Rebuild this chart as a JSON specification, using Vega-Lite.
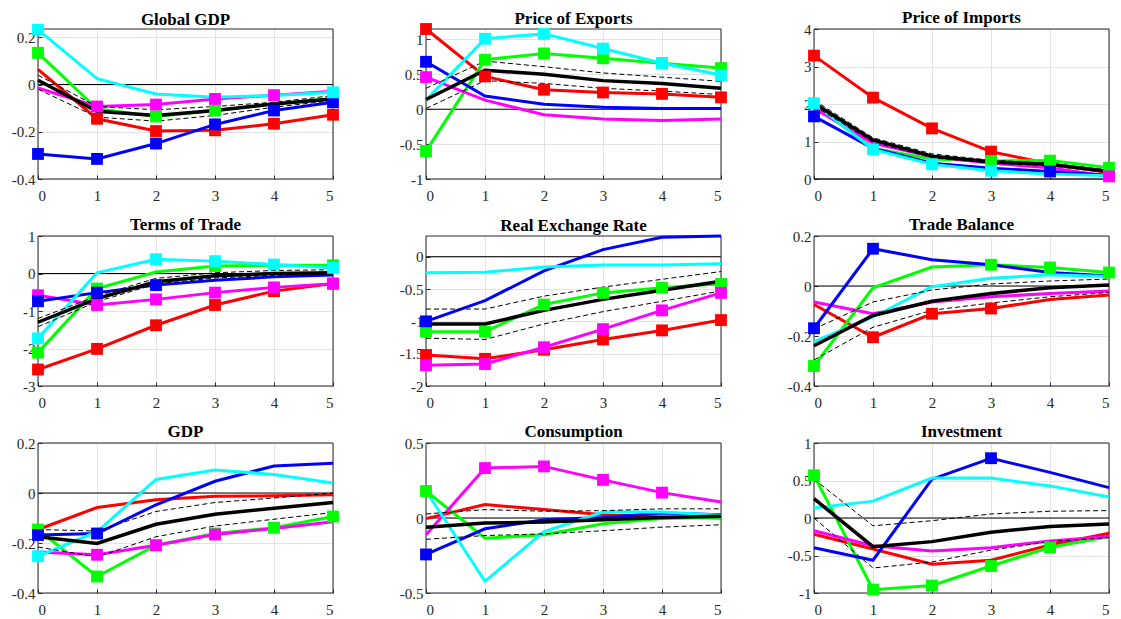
{
"$schema": "https://vega.github.io/schema/vega-lite/v6.json",
"background": "white",
"padding": {"left": 11, "top": 9, "right": 5, "bottom": 5},
"data": {"values": [
{"p":1,"s":"r","t":0,"v":0.064,"m":0},{"p":1,"s":"r","t":1,"v":-0.145,"m":1},{"p":1,"s":"r","t":2,"v":-0.197,"m":1},{"p":1,"s":"r","t":3,"v":-0.194,"m":1},{"p":1,"s":"r","t":4,"v":-0.166,"m":1},{"p":1,"s":"r","t":5,"v":-0.128,"m":1},
{"p":1,"s":"g","t":0,"v":0.134,"m":1},{"p":1,"s":"g","t":1,"v":-0.103,"m":0},{"p":1,"s":"g","t":2,"v":-0.135,"m":1},{"p":1,"s":"g","t":3,"v":-0.11,"m":1},{"p":1,"s":"g","t":4,"v":-0.082,"m":0},{"p":1,"s":"g","t":5,"v":-0.058,"m":0},
{"p":1,"s":"m","t":0,"v":-0.015,"m":0},{"p":1,"s":"m","t":1,"v":-0.093,"m":1},{"p":1,"s":"m","t":2,"v":-0.085,"m":1},{"p":1,"s":"m","t":3,"v":-0.061,"m":1},{"p":1,"s":"m","t":4,"v":-0.045,"m":1},{"p":1,"s":"m","t":5,"v":-0.029,"m":0},
{"p":1,"s":"b","t":0,"v":-0.294,"m":1},{"p":1,"s":"b","t":1,"v":-0.315,"m":1},{"p":1,"s":"b","t":2,"v":-0.25,"m":1},{"p":1,"s":"b","t":3,"v":-0.169,"m":1},{"p":1,"s":"b","t":4,"v":-0.11,"m":1},{"p":1,"s":"b","t":5,"v":-0.075,"m":1},
{"p":1,"s":"c","t":0,"v":0.232,"m":1},{"p":1,"s":"c","t":1,"v":0.025,"m":0},{"p":1,"s":"c","t":2,"v":-0.04,"m":0},{"p":1,"s":"c","t":3,"v":-0.054,"m":0},{"p":1,"s":"c","t":4,"v":-0.047,"m":0},{"p":1,"s":"c","t":5,"v":-0.033,"m":1},
{"p":1,"s":"k","t":0,"v":0.018},{"p":1,"s":"k","t":1,"v":-0.113},{"p":1,"s":"k","t":2,"v":-0.131},{"p":1,"s":"k","t":3,"v":-0.11},{"p":1,"s":"k","t":4,"v":-0.082},{"p":1,"s":"k","t":5,"v":-0.061},
{"p":1,"s":"hi","t":0,"v":0.04},{"p":1,"s":"hi","t":1,"v":-0.093},{"p":1,"s":"hi","t":2,"v":-0.107},{"p":1,"s":"hi","t":3,"v":-0.093},{"p":1,"s":"hi","t":4,"v":-0.075},{"p":1,"s":"hi","t":5,"v":-0.047},
{"p":1,"s":"lo","t":0,"v":-0.02},{"p":1,"s":"lo","t":1,"v":-0.138},{"p":1,"s":"lo","t":2,"v":-0.155},{"p":1,"s":"lo","t":3,"v":-0.131},{"p":1,"s":"lo","t":4,"v":-0.096},{"p":1,"s":"lo","t":5,"v":-0.068},

{"p":2,"s":"r","t":0,"v":1.15,"m":1},{"p":2,"s":"r","t":1,"v":0.47,"m":1},{"p":2,"s":"r","t":2,"v":0.28,"m":1},{"p":2,"s":"r","t":3,"v":0.24,"m":1},{"p":2,"s":"r","t":4,"v":0.22,"m":1},{"p":2,"s":"r","t":5,"v":0.17,"m":1},
{"p":2,"s":"g","t":0,"v":-0.6,"m":1},{"p":2,"s":"g","t":1,"v":0.71,"m":1},{"p":2,"s":"g","t":2,"v":0.8,"m":1},{"p":2,"s":"g","t":3,"v":0.73,"m":1},{"p":2,"s":"g","t":4,"v":0.66,"m":1},{"p":2,"s":"g","t":5,"v":0.59,"m":1},
{"p":2,"s":"m","t":0,"v":0.46,"m":1},{"p":2,"s":"m","t":1,"v":0.13,"m":0},{"p":2,"s":"m","t":2,"v":-0.08,"m":0},{"p":2,"s":"m","t":3,"v":-0.14,"m":0},{"p":2,"s":"m","t":4,"v":-0.16,"m":0},{"p":2,"s":"m","t":5,"v":-0.14,"m":0},
{"p":2,"s":"b","t":0,"v":0.68,"m":1},{"p":2,"s":"b","t":1,"v":0.19,"m":0},{"p":2,"s":"b","t":2,"v":0.07,"m":0},{"p":2,"s":"b","t":3,"v":0.03,"m":0},{"p":2,"s":"b","t":4,"v":0.01,"m":0},{"p":2,"s":"b","t":5,"v":0.01,"m":0},
{"p":2,"s":"c","t":0,"v":0.13,"m":0},{"p":2,"s":"c","t":1,"v":1.01,"m":1},{"p":2,"s":"c","t":2,"v":1.08,"m":1},{"p":2,"s":"c","t":3,"v":0.87,"m":1},{"p":2,"s":"c","t":4,"v":0.66,"m":1},{"p":2,"s":"c","t":5,"v":0.49,"m":1},
{"p":2,"s":"k","t":0,"v":0.14},{"p":2,"s":"k","t":1,"v":0.56},{"p":2,"s":"k","t":2,"v":0.5},{"p":2,"s":"k","t":3,"v":0.41},{"p":2,"s":"k","t":4,"v":0.37},{"p":2,"s":"k","t":5,"v":0.3},
{"p":2,"s":"hi","t":0,"v":0.3},{"p":2,"s":"hi","t":1,"v":0.69},{"p":2,"s":"hi","t":2,"v":0.61},{"p":2,"s":"hi","t":3,"v":0.52},{"p":2,"s":"hi","t":4,"v":0.46},{"p":2,"s":"hi","t":5,"v":0.4},
{"p":2,"s":"lo","t":0,"v":0.01},{"p":2,"s":"lo","t":1,"v":0.41},{"p":2,"s":"lo","t":2,"v":0.37},{"p":2,"s":"lo","t":3,"v":0.3},{"p":2,"s":"lo","t":4,"v":0.26},{"p":2,"s":"lo","t":5,"v":0.21},

{"p":3,"s":"r","t":0,"v":3.29,"m":1},{"p":3,"s":"r","t":1,"v":2.17,"m":1},{"p":3,"s":"r","t":2,"v":1.35,"m":1},{"p":3,"s":"r","t":3,"v":0.73,"m":1},{"p":3,"s":"r","t":4,"v":0.4,"m":0},{"p":3,"s":"r","t":5,"v":0.17,"m":0},
{"p":3,"s":"g","t":0,"v":1.98,"m":0},{"p":3,"s":"g","t":1,"v":0.82,"m":0},{"p":3,"s":"g","t":2,"v":0.53,"m":0},{"p":3,"s":"g","t":3,"v":0.48,"m":1},{"p":3,"s":"g","t":4,"v":0.49,"m":1},{"p":3,"s":"g","t":5,"v":0.3,"m":1},
{"p":3,"s":"m","t":0,"v":1.89,"m":0},{"p":3,"s":"m","t":1,"v":0.95,"m":0},{"p":3,"s":"m","t":2,"v":0.6,"m":0},{"p":3,"s":"m","t":3,"v":0.42,"m":0},{"p":3,"s":"m","t":4,"v":0.3,"m":0},{"p":3,"s":"m","t":5,"v":0.07,"m":1},
{"p":3,"s":"b","t":0,"v":1.67,"m":1},{"p":3,"s":"b","t":1,"v":0.82,"m":0},{"p":3,"s":"b","t":2,"v":0.42,"m":0},{"p":3,"s":"b","t":3,"v":0.29,"m":0},{"p":3,"s":"b","t":4,"v":0.2,"m":1},{"p":3,"s":"b","t":5,"v":0.1,"m":0},
{"p":3,"s":"c","t":0,"v":2.02,"m":1},{"p":3,"s":"c","t":1,"v":0.79,"m":1},{"p":3,"s":"c","t":2,"v":0.39,"m":1},{"p":3,"s":"c","t":3,"v":0.22,"m":1},{"p":3,"s":"c","t":4,"v":0.13,"m":0},{"p":3,"s":"c","t":5,"v":0.09,"m":0},
{"p":3,"s":"k","t":0,"v":2.02},{"p":3,"s":"k","t":1,"v":1.04},{"p":3,"s":"k","t":2,"v":0.61},{"p":3,"s":"k","t":3,"v":0.46},{"p":3,"s":"k","t":4,"v":0.39},{"p":3,"s":"k","t":5,"v":0.2},
{"p":3,"s":"hi","t":0,"v":2.1},{"p":3,"s":"hi","t":1,"v":1.1},{"p":3,"s":"hi","t":2,"v":0.67},{"p":3,"s":"hi","t":3,"v":0.5},{"p":3,"s":"hi","t":4,"v":0.42},{"p":3,"s":"hi","t":5,"v":0.24},
{"p":3,"s":"lo","t":0,"v":1.95},{"p":3,"s":"lo","t":1,"v":0.98},{"p":3,"s":"lo","t":2,"v":0.57},{"p":3,"s":"lo","t":3,"v":0.42},{"p":3,"s":"lo","t":4,"v":0.35},{"p":3,"s":"lo","t":5,"v":0.17},

{"p":4,"s":"r","t":0,"v":-2.56,"m":1},{"p":4,"s":"r","t":1,"v":-2.01,"m":1},{"p":4,"s":"r","t":2,"v":-1.38,"m":1},{"p":4,"s":"r","t":3,"v":-0.84,"m":1},{"p":4,"s":"r","t":4,"v":-0.47,"m":1},{"p":4,"s":"r","t":5,"v":-0.27,"m":1},
{"p":4,"s":"g","t":0,"v":-2.11,"m":1},{"p":4,"s":"g","t":1,"v":-0.4,"m":1},{"p":4,"s":"g","t":2,"v":0.04,"m":0},{"p":4,"s":"g","t":3,"v":0.2,"m":1},{"p":4,"s":"g","t":4,"v":0.22,"m":0},{"p":4,"s":"g","t":5,"v":0.22,"m":1},
{"p":4,"s":"m","t":0,"v":-0.58,"m":1},{"p":4,"s":"m","t":1,"v":-0.84,"m":1},{"p":4,"s":"m","t":2,"v":-0.69,"m":1},{"p":4,"s":"m","t":3,"v":-0.51,"m":1},{"p":4,"s":"m","t":4,"v":-0.37,"m":1},{"p":4,"s":"m","t":5,"v":-0.27,"m":1},
{"p":4,"s":"b","t":0,"v":-0.74,"m":1},{"p":4,"s":"b","t":1,"v":-0.51,"m":1},{"p":4,"s":"b","t":2,"v":-0.31,"m":1},{"p":4,"s":"b","t":3,"v":-0.18,"m":0},{"p":4,"s":"b","t":4,"v":-0.09,"m":0},{"p":4,"s":"b","t":5,"v":-0.04,"m":0},
{"p":4,"s":"c","t":0,"v":-1.73,"m":1},{"p":4,"s":"c","t":1,"v":0.02,"m":0},{"p":4,"s":"c","t":2,"v":0.38,"m":1},{"p":4,"s":"c","t":3,"v":0.33,"m":1},{"p":4,"s":"c","t":4,"v":0.24,"m":1},{"p":4,"s":"c","t":5,"v":0.15,"m":1},
{"p":4,"s":"k","t":0,"v":-1.3},{"p":4,"s":"k","t":1,"v":-0.67},{"p":4,"s":"k","t":2,"v":-0.22},{"p":4,"s":"k","t":3,"v":-0.06},{"p":4,"s":"k","t":4,"v":0.0},{"p":4,"s":"k","t":5,"v":0.02},
{"p":4,"s":"hi","t":0,"v":-1.2},{"p":4,"s":"hi","t":1,"v":-0.6},{"p":4,"s":"hi","t":2,"v":-0.13},{"p":4,"s":"hi","t":3,"v":0.02},{"p":4,"s":"hi","t":4,"v":0.08},{"p":4,"s":"hi","t":5,"v":0.1},
{"p":4,"s":"lo","t":0,"v":-1.42},{"p":4,"s":"lo","t":1,"v":-0.75},{"p":4,"s":"lo","t":2,"v":-0.28},{"p":4,"s":"lo","t":3,"v":-0.12},{"p":4,"s":"lo","t":4,"v":-0.05},{"p":4,"s":"lo","t":5,"v":-0.02},

{"p":5,"s":"r","t":0,"v":-1.52,"m":1},{"p":5,"s":"r","t":1,"v":-1.58,"m":1},{"p":5,"s":"r","t":2,"v":-1.44,"m":1},{"p":5,"s":"r","t":3,"v":-1.28,"m":1},{"p":5,"s":"r","t":4,"v":-1.14,"m":1},{"p":5,"s":"r","t":5,"v":-0.98,"m":1},
{"p":5,"s":"g","t":0,"v":-1.16,"m":1},{"p":5,"s":"g","t":1,"v":-1.16,"m":1},{"p":5,"s":"g","t":2,"v":-0.74,"m":1},{"p":5,"s":"g","t":3,"v":-0.56,"m":1},{"p":5,"s":"g","t":4,"v":-0.48,"m":1},{"p":5,"s":"g","t":5,"v":-0.42,"m":1},
{"p":5,"s":"m","t":0,"v":-1.68,"m":1},{"p":5,"s":"m","t":1,"v":-1.66,"m":1},{"p":5,"s":"m","t":2,"v":-1.4,"m":1},{"p":5,"s":"m","t":3,"v":-1.12,"m":1},{"p":5,"s":"m","t":4,"v":-0.83,"m":1},{"p":5,"s":"m","t":5,"v":-0.56,"m":1},
{"p":5,"s":"b","t":0,"v":-1.0,"m":1},{"p":5,"s":"b","t":1,"v":-0.68,"m":0},{"p":5,"s":"b","t":2,"v":-0.22,"m":0},{"p":5,"s":"b","t":3,"v":0.11,"m":0},{"p":5,"s":"b","t":4,"v":0.3,"m":0},{"p":5,"s":"b","t":5,"v":0.32,"m":0},
{"p":5,"s":"c","t":0,"v":-0.25,"m":0},{"p":5,"s":"c","t":1,"v":-0.24,"m":0},{"p":5,"s":"c","t":2,"v":-0.16,"m":0},{"p":5,"s":"c","t":3,"v":-0.13,"m":0},{"p":5,"s":"c","t":4,"v":-0.13,"m":0},{"p":5,"s":"c","t":5,"v":-0.11,"m":0},
{"p":5,"s":"k","t":0,"v":-1.04},{"p":5,"s":"k","t":1,"v":-1.04},{"p":5,"s":"k","t":2,"v":-0.83},{"p":5,"s":"k","t":3,"v":-0.66},{"p":5,"s":"k","t":4,"v":-0.52},{"p":5,"s":"k","t":5,"v":-0.38},
{"p":5,"s":"hi","t":0,"v":-0.81},{"p":5,"s":"hi","t":1,"v":-0.81},{"p":5,"s":"hi","t":2,"v":-0.61},{"p":5,"s":"hi","t":3,"v":-0.47},{"p":5,"s":"hi","t":4,"v":-0.35},{"p":5,"s":"hi","t":5,"v":-0.23},
{"p":5,"s":"lo","t":0,"v":-1.26},{"p":5,"s":"lo","t":1,"v":-1.28},{"p":5,"s":"lo","t":2,"v":-1.04},{"p":5,"s":"lo","t":3,"v":-0.85},{"p":5,"s":"lo","t":4,"v":-0.69},{"p":5,"s":"lo","t":5,"v":-0.53},

{"p":6,"s":"r","t":0,"v":-0.074,"m":0},{"p":6,"s":"r","t":1,"v":-0.205,"m":1},{"p":6,"s":"r","t":2,"v":-0.111,"m":1},{"p":6,"s":"r","t":3,"v":-0.09,"m":1},{"p":6,"s":"r","t":4,"v":-0.054,"m":0},{"p":6,"s":"r","t":5,"v":-0.036,"m":0},
{"p":6,"s":"g","t":0,"v":-0.32,"m":1},{"p":6,"s":"g","t":1,"v":-0.007,"m":0},{"p":6,"s":"g","t":2,"v":0.076,"m":0},{"p":6,"s":"g","t":3,"v":0.085,"m":1},{"p":6,"s":"g","t":4,"v":0.074,"m":1},{"p":6,"s":"g","t":5,"v":0.054,"m":1},
{"p":6,"s":"m","t":0,"v":-0.064,"m":0},{"p":6,"s":"m","t":1,"v":-0.111,"m":0},{"p":6,"s":"m","t":2,"v":-0.064,"m":0},{"p":6,"s":"m","t":3,"v":-0.043,"m":0},{"p":6,"s":"m","t":4,"v":-0.03,"m":0},{"p":6,"s":"m","t":5,"v":-0.02,"m":0},
{"p":6,"s":"b","t":0,"v":-0.169,"m":1},{"p":6,"s":"b","t":1,"v":0.149,"m":1},{"p":6,"s":"b","t":2,"v":0.105,"m":0},{"p":6,"s":"b","t":3,"v":0.085,"m":0},{"p":6,"s":"b","t":4,"v":0.054,"m":0},{"p":6,"s":"b","t":5,"v":0.04,"m":0},
{"p":6,"s":"c","t":0,"v":-0.223,"m":0},{"p":6,"s":"c","t":1,"v":-0.124,"m":0},{"p":6,"s":"c","t":2,"v":-0.003,"m":0},{"p":6,"s":"c","t":3,"v":0.031,"m":0},{"p":6,"s":"c","t":4,"v":0.045,"m":0},{"p":6,"s":"c","t":5,"v":0.038,"m":0},
{"p":6,"s":"k","t":0,"v":-0.239},{"p":6,"s":"k","t":1,"v":-0.118},{"p":6,"s":"k","t":2,"v":-0.061},{"p":6,"s":"k","t":3,"v":-0.03},{"p":6,"s":"k","t":4,"v":-0.007},{"p":6,"s":"k","t":5,"v":0.004},
{"p":6,"s":"hi","t":0,"v":-0.172},{"p":6,"s":"hi","t":1,"v":-0.064},{"p":6,"s":"hi","t":2,"v":-0.016},{"p":6,"s":"hi","t":3,"v":0.008},{"p":6,"s":"hi","t":4,"v":0.02},{"p":6,"s":"hi","t":5,"v":0.028},
{"p":6,"s":"lo","t":0,"v":-0.296},{"p":6,"s":"lo","t":1,"v":-0.165},{"p":6,"s":"lo","t":2,"v":-0.097},{"p":6,"s":"lo","t":3,"v":-0.068},{"p":6,"s":"lo","t":4,"v":-0.043},{"p":6,"s":"lo","t":5,"v":-0.026},

{"p":7,"s":"r","t":0,"v":-0.146,"m":0},{"p":7,"s":"r","t":1,"v":-0.058,"m":0},{"p":7,"s":"r","t":2,"v":-0.027,"m":0},{"p":7,"s":"r","t":3,"v":-0.013,"m":0},{"p":7,"s":"r","t":4,"v":-0.011,"m":0},{"p":7,"s":"r","t":5,"v":-0.007,"m":0},
{"p":7,"s":"g","t":0,"v":-0.146,"m":1},{"p":7,"s":"g","t":1,"v":-0.334,"m":1},{"p":7,"s":"g","t":2,"v":-0.209,"m":1},{"p":7,"s":"g","t":3,"v":-0.162,"m":1},{"p":7,"s":"g","t":4,"v":-0.139,"m":1},{"p":7,"s":"g","t":5,"v":-0.094,"m":1},
{"p":7,"s":"m","t":0,"v":-0.236,"m":0},{"p":7,"s":"m","t":1,"v":-0.247,"m":1},{"p":7,"s":"m","t":2,"v":-0.209,"m":1},{"p":7,"s":"m","t":3,"v":-0.166,"m":1},{"p":7,"s":"m","t":4,"v":-0.142,"m":0},{"p":7,"s":"m","t":5,"v":-0.115,"m":0},
{"p":7,"s":"b","t":0,"v":-0.168,"m":1},{"p":7,"s":"b","t":1,"v":-0.162,"m":1},{"p":7,"s":"b","t":2,"v":-0.047,"m":0},{"p":7,"s":"b","t":3,"v":0.047,"m":0},{"p":7,"s":"b","t":4,"v":0.108,"m":0},{"p":7,"s":"b","t":5,"v":0.119,"m":0},
{"p":7,"s":"c","t":0,"v":-0.253,"m":1},{"p":7,"s":"c","t":1,"v":-0.155,"m":0},{"p":7,"s":"c","t":2,"v":0.054,"m":0},{"p":7,"s":"c","t":3,"v":0.092,"m":0},{"p":7,"s":"c","t":4,"v":0.074,"m":0},{"p":7,"s":"c","t":5,"v":0.04,"m":0},
{"p":7,"s":"k","t":0,"v":-0.175},{"p":7,"s":"k","t":1,"v":-0.202},{"p":7,"s":"k","t":2,"v":-0.125},{"p":7,"s":"k","t":3,"v":-0.085},{"p":7,"s":"k","t":4,"v":-0.061},{"p":7,"s":"k","t":5,"v":-0.038},
{"p":7,"s":"hi","t":0,"v":-0.146},{"p":7,"s":"hi","t":1,"v":-0.152},{"p":7,"s":"hi","t":2,"v":-0.074},{"p":7,"s":"hi","t":3,"v":-0.038},{"p":7,"s":"hi","t":4,"v":-0.02},{"p":7,"s":"hi","t":5,"v":0.0},
{"p":7,"s":"lo","t":0,"v":-0.216},{"p":7,"s":"lo","t":1,"v":-0.256},{"p":7,"s":"lo","t":2,"v":-0.175},{"p":7,"s":"lo","t":3,"v":-0.132},{"p":7,"s":"lo","t":4,"v":-0.105},{"p":7,"s":"lo","t":5,"v":-0.078},

{"p":8,"s":"r","t":0,"v":-0.004,"m":0},{"p":8,"s":"r","t":1,"v":0.09,"m":0},{"p":8,"s":"r","t":2,"v":0.056,"m":0},{"p":8,"s":"r","t":3,"v":0.022,"m":0},{"p":8,"s":"r","t":4,"v":0.007,"m":0},{"p":8,"s":"r","t":5,"v":0.0,"m":0},
{"p":8,"s":"g","t":0,"v":0.18,"m":1},{"p":8,"s":"g","t":1,"v":-0.135,"m":0},{"p":8,"s":"g","t":2,"v":-0.112,"m":0},{"p":8,"s":"g","t":3,"v":-0.038,"m":0},{"p":8,"s":"g","t":4,"v":-0.004,"m":0},{"p":8,"s":"g","t":5,"v":0.004,"m":0},
{"p":8,"s":"m","t":0,"v":-0.112,"m":0},{"p":8,"s":"m","t":1,"v":0.333,"m":1},{"p":8,"s":"m","t":2,"v":0.344,"m":1},{"p":8,"s":"m","t":3,"v":0.254,"m":1},{"p":8,"s":"m","t":4,"v":0.169,"m":1},{"p":8,"s":"m","t":5,"v":0.106,"m":0},
{"p":8,"s":"b","t":0,"v":-0.243,"m":1},{"p":8,"s":"b","t":1,"v":-0.072,"m":0},{"p":8,"s":"b","t":2,"v":-0.011,"m":0},{"p":8,"s":"b","t":3,"v":0.004,"m":0},{"p":8,"s":"b","t":4,"v":0.034,"m":0},{"p":8,"s":"b","t":5,"v":0.022,"m":0},
{"p":8,"s":"c","t":0,"v":0.18,"m":0},{"p":8,"s":"c","t":1,"v":-0.422,"m":0},{"p":8,"s":"c","t":2,"v":-0.09,"m":0},{"p":8,"s":"c","t":3,"v":0.04,"m":0},{"p":8,"s":"c","t":4,"v":0.04,"m":0},{"p":8,"s":"c","t":5,"v":0.018,"m":0},
{"p":8,"s":"k","t":0,"v":-0.061},{"p":8,"s":"k","t":1,"v":-0.034},{"p":8,"s":"k","t":2,"v":-0.027},{"p":8,"s":"k","t":3,"v":-0.011},{"p":8,"s":"k","t":4,"v":0.004},{"p":8,"s":"k","t":5,"v":0.011},
{"p":8,"s":"hi","t":0,"v":0.027},{"p":8,"s":"hi","t":1,"v":0.056},{"p":8,"s":"hi","t":2,"v":0.045},{"p":8,"s":"hi","t":3,"v":0.049},{"p":8,"s":"hi","t":4,"v":0.061},{"p":8,"s":"hi","t":5,"v":0.061},
{"p":8,"s":"lo","t":0,"v":-0.142},{"p":8,"s":"lo","t":1,"v":-0.117},{"p":8,"s":"lo","t":2,"v":-0.106},{"p":8,"s":"lo","t":3,"v":-0.085},{"p":8,"s":"lo","t":4,"v":-0.061},{"p":8,"s":"lo","t":5,"v":-0.045},

{"p":9,"s":"r","t":0,"v":-0.216,"m":0},{"p":9,"s":"r","t":1,"v":-0.414,"m":0},{"p":9,"s":"r","t":2,"v":-0.617,"m":0},{"p":9,"s":"r","t":3,"v":-0.563,"m":0},{"p":9,"s":"r","t":4,"v":-0.36,"m":0},{"p":9,"s":"r","t":5,"v":-0.203,"m":0},
{"p":9,"s":"g","t":0,"v":0.57,"m":1},{"p":9,"s":"g","t":1,"v":-0.955,"m":1},{"p":9,"s":"g","t":2,"v":-0.9,"m":1},{"p":9,"s":"g","t":3,"v":-0.64,"m":1},{"p":9,"s":"g","t":4,"v":-0.39,"m":1},{"p":9,"s":"g","t":5,"v":-0.25,"m":0},
{"p":9,"s":"m","t":0,"v":-0.171,"m":0},{"p":9,"s":"m","t":1,"v":-0.369,"m":0},{"p":9,"s":"m","t":2,"v":-0.441,"m":0},{"p":9,"s":"m","t":3,"v":-0.396,"m":0},{"p":9,"s":"m","t":4,"v":-0.306,"m":0},{"p":9,"s":"m","t":5,"v":-0.248,"m":0},
{"p":9,"s":"b","t":0,"v":-0.396,"m":0},{"p":9,"s":"b","t":1,"v":-0.563,"m":0},{"p":9,"s":"b","t":2,"v":0.518,"m":0},{"p":9,"s":"b","t":3,"v":0.797,"m":1},{"p":9,"s":"b","t":4,"v":0.608,"m":0},{"p":9,"s":"b","t":5,"v":0.405,"m":0},
{"p":9,"s":"c","t":0,"v":0.135,"m":0},{"p":9,"s":"c","t":1,"v":0.225,"m":0},{"p":9,"s":"c","t":2,"v":0.532,"m":0},{"p":9,"s":"c","t":3,"v":0.532,"m":0},{"p":9,"s":"c","t":4,"v":0.428,"m":0},{"p":9,"s":"c","t":5,"v":0.279,"m":0},
{"p":9,"s":"k","t":0,"v":0.257},{"p":9,"s":"k","t":1,"v":-0.383},{"p":9,"s":"k","t":2,"v":-0.315},{"p":9,"s":"k","t":3,"v":-0.189},{"p":9,"s":"k","t":4,"v":-0.113},{"p":9,"s":"k","t":5,"v":-0.081},
{"p":9,"s":"hi","t":0,"v":0.518},{"p":9,"s":"hi","t":1,"v":-0.104},{"p":9,"s":"hi","t":2,"v":-0.036},{"p":9,"s":"hi","t":3,"v":0.054},{"p":9,"s":"hi","t":4,"v":0.09},{"p":9,"s":"hi","t":5,"v":0.099},
{"p":9,"s":"lo","t":0,"v":0.0},{"p":9,"s":"lo","t":1,"v":-0.667},{"p":9,"s":"lo","t":2,"v":-0.586},{"p":9,"s":"lo","t":3,"v":-0.428},{"p":9,"s":"lo","t":4,"v":-0.315},{"p":9,"s":"lo","t":5,"v":-0.261}
]},
"columns": 3,
"spacing": {"row": 57, "column": 93},
"bounds": "flush",
"concat": [
{"title": "Global GDP", "width": 295, "height": 150, "transform": [{"filter": "datum.p == 1"}],
 "encoding": {"y": {"field": "v", "type": "quantitative", "title": null, "scale": {"domain": [-0.4, 0.235], "nice": false, "zero": false}, "axis": {"values": [-0.4,-0.2,0,0.2], "labelExpr": "datum.value + ''"}}},
 "layer": [
  {"transform": [{"filter": "datum.s == 'k' && datum.t == 0"}], "mark": {"type": "rule", "color": "black", "strokeWidth": 1}, "encoding": {"y": {"datum": 0}}},
  {"transform": [{"filter": "datum.s == 'k' && datum.t == 0"}], "mark": {"type": "rect", "filled": false, "color": "#262626", "strokeWidth": 1}, "encoding": {"x": {"datum": 0, "title": null}, "x2": {"datum": 5}, "y": {"datum": -0.4, "title": null}, "y2": {"datum": 0.235}}},
  {"transform": [{"filter": "indexof(['r','g','m','b','c'], datum.s) >= 0"}], "mark": {"type": "line", "strokeWidth": 3}, "encoding": {"x": {"field": "t", "type": "quantitative", "title": null, "scale": {"domain": [0, 5]}, "axis": {"values": [0,1,2,3,4,5], "labelExpr": "datum.value + ''"}}, "color": {"field": "s", "type": "nominal", "scale": {"domain": ["r","g","m","b","c"], "range": ["#ff0000","#00ff00","#ff00ff","#0000ff","#00ffff"]}, "legend": null}}},
  {"transform": [{"filter": "datum.s == 'k'"}], "mark": {"type": "line", "color": "black", "strokeWidth": 3.5}, "encoding": {"x": {"field": "t", "type": "quantitative", "title": null}}},
  {"transform": [{"filter": "datum.s == 'hi' || datum.s == 'lo'"}], "mark": {"type": "line", "color": "black", "strokeWidth": 1, "strokeDash": [5, 3]}, "encoding": {"x": {"field": "t", "type": "quantitative", "title": null}, "detail": {"field": "s"}}},
  {"transform": [{"filter": "datum.m == 1"}], "mark": {"type": "point", "shape": "square", "filled": true, "size": 140, "opacity": 1}, "encoding": {"x": {"field": "t", "type": "quantitative", "title": null}, "color": {"field": "s", "type": "nominal", "scale": {"domain": ["r","g","m","b","c"], "range": ["#ff0000","#00ff00","#ff00ff","#0000ff","#00ffff"]}, "legend": null}}}
 ]},
{"title": "Price of Exports", "width": 295, "height": 150, "transform": [{"filter": "datum.p == 2"}],
 "encoding": {"y": {"field": "v", "type": "quantitative", "title": null, "scale": {"domain": [-1, 1.15], "nice": false, "zero": false}, "axis": {"values": [-1,-0.5,0,0.5,1], "labelExpr": "datum.value + ''"}}},
 "layer": [
  {"transform": [{"filter": "datum.s == 'k' && datum.t == 0"}], "mark": {"type": "rule", "color": "black", "strokeWidth": 1}, "encoding": {"y": {"datum": 0}}},
  {"transform": [{"filter": "datum.s == 'k' && datum.t == 0"}], "mark": {"type": "rect", "filled": false, "color": "#262626", "strokeWidth": 1}, "encoding": {"x": {"datum": 0, "title": null}, "x2": {"datum": 5}, "y": {"datum": -1, "title": null}, "y2": {"datum": 1.15}}},
  {"transform": [{"filter": "indexof(['r','g','m','b','c'], datum.s) >= 0"}], "mark": {"type": "line", "strokeWidth": 3}, "encoding": {"x": {"field": "t", "type": "quantitative", "title": null, "scale": {"domain": [0, 5]}, "axis": {"values": [0,1,2,3,4,5], "labelExpr": "datum.value + ''"}}, "color": {"field": "s", "type": "nominal", "scale": {"domain": ["r","g","m","b","c"], "range": ["#ff0000","#00ff00","#ff00ff","#0000ff","#00ffff"]}, "legend": null}}},
  {"transform": [{"filter": "datum.s == 'k'"}], "mark": {"type": "line", "color": "black", "strokeWidth": 3.5}, "encoding": {"x": {"field": "t", "type": "quantitative", "title": null}}},
  {"transform": [{"filter": "datum.s == 'hi' || datum.s == 'lo'"}], "mark": {"type": "line", "color": "black", "strokeWidth": 1, "strokeDash": [5, 3]}, "encoding": {"x": {"field": "t", "type": "quantitative", "title": null}, "detail": {"field": "s"}}},
  {"transform": [{"filter": "datum.m == 1"}], "mark": {"type": "point", "shape": "square", "filled": true, "size": 140, "opacity": 1}, "encoding": {"x": {"field": "t", "type": "quantitative", "title": null}, "color": {"field": "s", "type": "nominal", "scale": {"domain": ["r","g","m","b","c"], "range": ["#ff0000","#00ff00","#ff00ff","#0000ff","#00ffff"]}, "legend": null}}}
 ]},
{"title": "Price of Imports", "width": 295, "height": 150, "transform": [{"filter": "datum.p == 3"}],
 "encoding": {"y": {"field": "v", "type": "quantitative", "title": null, "scale": {"domain": [0, 4], "nice": false, "zero": false}, "axis": {"values": [0,1,2,3,4], "labelExpr": "datum.value + ''"}}},
 "layer": [
  {"transform": [{"filter": "datum.s == 'k' && datum.t == 0"}], "mark": {"type": "rule", "color": "black", "strokeWidth": 1}, "encoding": {"y": {"datum": 0}}},
  {"transform": [{"filter": "datum.s == 'k' && datum.t == 0"}], "mark": {"type": "rect", "filled": false, "color": "#262626", "strokeWidth": 1}, "encoding": {"x": {"datum": 0, "title": null}, "x2": {"datum": 5}, "y": {"datum": 0, "title": null}, "y2": {"datum": 4}}},
  {"transform": [{"filter": "indexof(['r','g','m','b','c'], datum.s) >= 0"}], "mark": {"type": "line", "strokeWidth": 3}, "encoding": {"x": {"field": "t", "type": "quantitative", "title": null, "scale": {"domain": [0, 5]}, "axis": {"values": [0,1,2,3,4,5], "labelExpr": "datum.value + ''"}}, "color": {"field": "s", "type": "nominal", "scale": {"domain": ["r","g","m","b","c"], "range": ["#ff0000","#00ff00","#ff00ff","#0000ff","#00ffff"]}, "legend": null}}},
  {"transform": [{"filter": "datum.s == 'k'"}], "mark": {"type": "line", "color": "black", "strokeWidth": 3.5}, "encoding": {"x": {"field": "t", "type": "quantitative", "title": null}}},
  {"transform": [{"filter": "datum.s == 'hi' || datum.s == 'lo'"}], "mark": {"type": "line", "color": "black", "strokeWidth": 1, "strokeDash": [5, 3]}, "encoding": {"x": {"field": "t", "type": "quantitative", "title": null}, "detail": {"field": "s"}}},
  {"transform": [{"filter": "datum.m == 1"}], "mark": {"type": "point", "shape": "square", "filled": true, "size": 140, "opacity": 1}, "encoding": {"x": {"field": "t", "type": "quantitative", "title": null}, "color": {"field": "s", "type": "nominal", "scale": {"domain": ["r","g","m","b","c"], "range": ["#ff0000","#00ff00","#ff00ff","#0000ff","#00ffff"]}, "legend": null}}}
 ]},
{"title": "Terms of Trade", "width": 295, "height": 150, "transform": [{"filter": "datum.p == 4"}],
 "encoding": {"y": {"field": "v", "type": "quantitative", "title": null, "scale": {"domain": [-3, 1], "nice": false, "zero": false}, "axis": {"values": [-3,-2,-1,0,1], "labelExpr": "datum.value + ''"}}},
 "layer": [
  {"transform": [{"filter": "datum.s == 'k' && datum.t == 0"}], "mark": {"type": "rule", "color": "black", "strokeWidth": 1}, "encoding": {"y": {"datum": 0}}},
  {"transform": [{"filter": "datum.s == 'k' && datum.t == 0"}], "mark": {"type": "rect", "filled": false, "color": "#262626", "strokeWidth": 1}, "encoding": {"x": {"datum": 0, "title": null}, "x2": {"datum": 5}, "y": {"datum": -3, "title": null}, "y2": {"datum": 1}}},
  {"transform": [{"filter": "indexof(['r','g','m','b','c'], datum.s) >= 0"}], "mark": {"type": "line", "strokeWidth": 3}, "encoding": {"x": {"field": "t", "type": "quantitative", "title": null, "scale": {"domain": [0, 5]}, "axis": {"values": [0,1,2,3,4,5], "labelExpr": "datum.value + ''"}}, "color": {"field": "s", "type": "nominal", "scale": {"domain": ["r","g","m","b","c"], "range": ["#ff0000","#00ff00","#ff00ff","#0000ff","#00ffff"]}, "legend": null}}},
  {"transform": [{"filter": "datum.s == 'k'"}], "mark": {"type": "line", "color": "black", "strokeWidth": 3.5}, "encoding": {"x": {"field": "t", "type": "quantitative", "title": null}}},
  {"transform": [{"filter": "datum.s == 'hi' || datum.s == 'lo'"}], "mark": {"type": "line", "color": "black", "strokeWidth": 1, "strokeDash": [5, 3]}, "encoding": {"x": {"field": "t", "type": "quantitative", "title": null}, "detail": {"field": "s"}}},
  {"transform": [{"filter": "datum.m == 1"}], "mark": {"type": "point", "shape": "square", "filled": true, "size": 140, "opacity": 1}, "encoding": {"x": {"field": "t", "type": "quantitative", "title": null}, "color": {"field": "s", "type": "nominal", "scale": {"domain": ["r","g","m","b","c"], "range": ["#ff0000","#00ff00","#ff00ff","#0000ff","#00ffff"]}, "legend": null}}}
 ]},
{"title": "Real Exchange Rate", "width": 295, "height": 150, "transform": [{"filter": "datum.p == 5"}],
 "encoding": {"y": {"field": "v", "type": "quantitative", "title": null, "scale": {"domain": [-2, 0.32], "nice": false, "zero": false}, "axis": {"values": [-2,-1.5,-1,-0.5,0], "labelExpr": "datum.value + ''"}}},
 "layer": [
  {"transform": [{"filter": "datum.s == 'k' && datum.t == 0"}], "mark": {"type": "rule", "color": "black", "strokeWidth": 1}, "encoding": {"y": {"datum": 0}}},
  {"transform": [{"filter": "datum.s == 'k' && datum.t == 0"}], "mark": {"type": "rect", "filled": false, "color": "#262626", "strokeWidth": 1}, "encoding": {"x": {"datum": 0, "title": null}, "x2": {"datum": 5}, "y": {"datum": -2, "title": null}, "y2": {"datum": 0.32}}},
  {"transform": [{"filter": "indexof(['r','g','m','b','c'], datum.s) >= 0"}], "mark": {"type": "line", "strokeWidth": 3}, "encoding": {"x": {"field": "t", "type": "quantitative", "title": null, "scale": {"domain": [0, 5]}, "axis": {"values": [0,1,2,3,4,5], "labelExpr": "datum.value + ''"}}, "color": {"field": "s", "type": "nominal", "scale": {"domain": ["r","g","m","b","c"], "range": ["#ff0000","#00ff00","#ff00ff","#0000ff","#00ffff"]}, "legend": null}}},
  {"transform": [{"filter": "datum.s == 'k'"}], "mark": {"type": "line", "color": "black", "strokeWidth": 3.5}, "encoding": {"x": {"field": "t", "type": "quantitative", "title": null}}},
  {"transform": [{"filter": "datum.s == 'hi' || datum.s == 'lo'"}], "mark": {"type": "line", "color": "black", "strokeWidth": 1, "strokeDash": [5, 3]}, "encoding": {"x": {"field": "t", "type": "quantitative", "title": null}, "detail": {"field": "s"}}},
  {"transform": [{"filter": "datum.m == 1"}], "mark": {"type": "point", "shape": "square", "filled": true, "size": 140, "opacity": 1}, "encoding": {"x": {"field": "t", "type": "quantitative", "title": null}, "color": {"field": "s", "type": "nominal", "scale": {"domain": ["r","g","m","b","c"], "range": ["#ff0000","#00ff00","#ff00ff","#0000ff","#00ffff"]}, "legend": null}}}
 ]},
{"title": "Trade Balance", "width": 295, "height": 150, "transform": [{"filter": "datum.p == 6"}],
 "encoding": {"y": {"field": "v", "type": "quantitative", "title": null, "scale": {"domain": [-0.4, 0.2], "nice": false, "zero": false}, "axis": {"values": [-0.4,-0.2,0,0.2], "labelExpr": "datum.value + ''"}}},
 "layer": [
  {"transform": [{"filter": "datum.s == 'k' && datum.t == 0"}], "mark": {"type": "rule", "color": "black", "strokeWidth": 1}, "encoding": {"y": {"datum": 0}}},
  {"transform": [{"filter": "datum.s == 'k' && datum.t == 0"}], "mark": {"type": "rect", "filled": false, "color": "#262626", "strokeWidth": 1}, "encoding": {"x": {"datum": 0, "title": null}, "x2": {"datum": 5}, "y": {"datum": -0.4, "title": null}, "y2": {"datum": 0.2}}},
  {"transform": [{"filter": "indexof(['r','g','m','b','c'], datum.s) >= 0"}], "mark": {"type": "line", "strokeWidth": 3}, "encoding": {"x": {"field": "t", "type": "quantitative", "title": null, "scale": {"domain": [0, 5]}, "axis": {"values": [0,1,2,3,4,5], "labelExpr": "datum.value + ''"}}, "color": {"field": "s", "type": "nominal", "scale": {"domain": ["r","g","m","b","c"], "range": ["#ff0000","#00ff00","#ff00ff","#0000ff","#00ffff"]}, "legend": null}}},
  {"transform": [{"filter": "datum.s == 'k'"}], "mark": {"type": "line", "color": "black", "strokeWidth": 3.5}, "encoding": {"x": {"field": "t", "type": "quantitative", "title": null}}},
  {"transform": [{"filter": "datum.s == 'hi' || datum.s == 'lo'"}], "mark": {"type": "line", "color": "black", "strokeWidth": 1, "strokeDash": [5, 3]}, "encoding": {"x": {"field": "t", "type": "quantitative", "title": null}, "detail": {"field": "s"}}},
  {"transform": [{"filter": "datum.m == 1"}], "mark": {"type": "point", "shape": "square", "filled": true, "size": 140, "opacity": 1}, "encoding": {"x": {"field": "t", "type": "quantitative", "title": null}, "color": {"field": "s", "type": "nominal", "scale": {"domain": ["r","g","m","b","c"], "range": ["#ff0000","#00ff00","#ff00ff","#0000ff","#00ffff"]}, "legend": null}}}
 ]},
{"title": "GDP", "width": 295, "height": 150, "transform": [{"filter": "datum.p == 7"}],
 "encoding": {"y": {"field": "v", "type": "quantitative", "title": null, "scale": {"domain": [-0.4, 0.2], "nice": false, "zero": false}, "axis": {"values": [-0.4,-0.2,0,0.2], "labelExpr": "datum.value + ''"}}},
 "layer": [
  {"transform": [{"filter": "datum.s == 'k' && datum.t == 0"}], "mark": {"type": "rule", "color": "black", "strokeWidth": 1}, "encoding": {"y": {"datum": 0}}},
  {"transform": [{"filter": "datum.s == 'k' && datum.t == 0"}], "mark": {"type": "rect", "filled": false, "color": "#262626", "strokeWidth": 1}, "encoding": {"x": {"datum": 0, "title": null}, "x2": {"datum": 5}, "y": {"datum": -0.4, "title": null}, "y2": {"datum": 0.2}}},
  {"transform": [{"filter": "indexof(['r','g','m','b','c'], datum.s) >= 0"}], "mark": {"type": "line", "strokeWidth": 3}, "encoding": {"x": {"field": "t", "type": "quantitative", "title": null, "scale": {"domain": [0, 5]}, "axis": {"values": [0,1,2,3,4,5], "labelExpr": "datum.value + ''"}}, "color": {"field": "s", "type": "nominal", "scale": {"domain": ["r","g","m","b","c"], "range": ["#ff0000","#00ff00","#ff00ff","#0000ff","#00ffff"]}, "legend": null}}},
  {"transform": [{"filter": "datum.s == 'k'"}], "mark": {"type": "line", "color": "black", "strokeWidth": 3.5}, "encoding": {"x": {"field": "t", "type": "quantitative", "title": null}}},
  {"transform": [{"filter": "datum.s == 'hi' || datum.s == 'lo'"}], "mark": {"type": "line", "color": "black", "strokeWidth": 1, "strokeDash": [5, 3]}, "encoding": {"x": {"field": "t", "type": "quantitative", "title": null}, "detail": {"field": "s"}}},
  {"transform": [{"filter": "datum.m == 1"}], "mark": {"type": "point", "shape": "square", "filled": true, "size": 140, "opacity": 1}, "encoding": {"x": {"field": "t", "type": "quantitative", "title": null}, "color": {"field": "s", "type": "nominal", "scale": {"domain": ["r","g","m","b","c"], "range": ["#ff0000","#00ff00","#ff00ff","#0000ff","#00ffff"]}, "legend": null}}}
 ]},
{"title": "Consumption", "width": 295, "height": 150, "transform": [{"filter": "datum.p == 8"}],
 "encoding": {"y": {"field": "v", "type": "quantitative", "title": null, "scale": {"domain": [-0.5, 0.5], "nice": false, "zero": false}, "axis": {"values": [-0.5,0,0.5], "labelExpr": "datum.value + ''"}}},
 "layer": [
  {"transform": [{"filter": "datum.s == 'k' && datum.t == 0"}], "mark": {"type": "rule", "color": "black", "strokeWidth": 1}, "encoding": {"y": {"datum": 0}}},
  {"transform": [{"filter": "datum.s == 'k' && datum.t == 0"}], "mark": {"type": "rect", "filled": false, "color": "#262626", "strokeWidth": 1}, "encoding": {"x": {"datum": 0, "title": null}, "x2": {"datum": 5}, "y": {"datum": -0.5, "title": null}, "y2": {"datum": 0.5}}},
  {"transform": [{"filter": "indexof(['r','g','m','b','c'], datum.s) >= 0"}], "mark": {"type": "line", "strokeWidth": 3}, "encoding": {"x": {"field": "t", "type": "quantitative", "title": null, "scale": {"domain": [0, 5]}, "axis": {"values": [0,1,2,3,4,5], "labelExpr": "datum.value + ''"}}, "color": {"field": "s", "type": "nominal", "scale": {"domain": ["r","g","m","b","c"], "range": ["#ff0000","#00ff00","#ff00ff","#0000ff","#00ffff"]}, "legend": null}}},
  {"transform": [{"filter": "datum.s == 'k'"}], "mark": {"type": "line", "color": "black", "strokeWidth": 3.5}, "encoding": {"x": {"field": "t", "type": "quantitative", "title": null}}},
  {"transform": [{"filter": "datum.s == 'hi' || datum.s == 'lo'"}], "mark": {"type": "line", "color": "black", "strokeWidth": 1, "strokeDash": [5, 3]}, "encoding": {"x": {"field": "t", "type": "quantitative", "title": null}, "detail": {"field": "s"}}},
  {"transform": [{"filter": "datum.m == 1"}], "mark": {"type": "point", "shape": "square", "filled": true, "size": 140, "opacity": 1}, "encoding": {"x": {"field": "t", "type": "quantitative", "title": null}, "color": {"field": "s", "type": "nominal", "scale": {"domain": ["r","g","m","b","c"], "range": ["#ff0000","#00ff00","#ff00ff","#0000ff","#00ffff"]}, "legend": null}}}
 ]},
{"title": "Investment", "width": 295, "height": 150, "transform": [{"filter": "datum.p == 9"}],
 "encoding": {"y": {"field": "v", "type": "quantitative", "title": null, "scale": {"domain": [-1, 1], "nice": false, "zero": false}, "axis": {"values": [-1,-0.5,0,0.5,1], "labelExpr": "datum.value + ''"}}},
 "layer": [
  {"transform": [{"filter": "datum.s == 'k' && datum.t == 0"}], "mark": {"type": "rule", "color": "black", "strokeWidth": 1}, "encoding": {"y": {"datum": 0}}},
  {"transform": [{"filter": "datum.s == 'k' && datum.t == 0"}], "mark": {"type": "rect", "filled": false, "color": "#262626", "strokeWidth": 1}, "encoding": {"x": {"datum": 0, "title": null}, "x2": {"datum": 5}, "y": {"datum": -1, "title": null}, "y2": {"datum": 1}}},
  {"transform": [{"filter": "indexof(['r','g','m','b','c'], datum.s) >= 0"}], "mark": {"type": "line", "strokeWidth": 3}, "encoding": {"x": {"field": "t", "type": "quantitative", "title": null, "scale": {"domain": [0, 5]}, "axis": {"values": [0,1,2,3,4,5], "labelExpr": "datum.value + ''"}}, "color": {"field": "s", "type": "nominal", "scale": {"domain": ["r","g","m","b","c"], "range": ["#ff0000","#00ff00","#ff00ff","#0000ff","#00ffff"]}, "legend": null}}},
  {"transform": [{"filter": "datum.s == 'k'"}], "mark": {"type": "line", "color": "black", "strokeWidth": 3.5}, "encoding": {"x": {"field": "t", "type": "quantitative", "title": null}}},
  {"transform": [{"filter": "datum.s == 'hi' || datum.s == 'lo'"}], "mark": {"type": "line", "color": "black", "strokeWidth": 1, "strokeDash": [5, 3]}, "encoding": {"x": {"field": "t", "type": "quantitative", "title": null}, "detail": {"field": "s"}}},
  {"transform": [{"filter": "datum.m == 1"}], "mark": {"type": "point", "shape": "square", "filled": true, "size": 140, "opacity": 1}, "encoding": {"x": {"field": "t", "type": "quantitative", "title": null}, "color": {"field": "s", "type": "nominal", "scale": {"domain": ["r","g","m","b","c"], "range": ["#ff0000","#00ff00","#ff00ff","#0000ff","#00ffff"]}, "legend": null}}}
 ]}
],
"config": {
 "view": {"stroke": null},
 "axis": {"labelFont": "Liberation Serif", "labelFontSize": 15, "labelColor": "#262626", "grid": true, "gridColor": "#e3e3e3", "gridWidth": 1, "domain": false, "tickColor": "#262626", "tickSize": -4},
 "axisX": {"labelPadding": 13},
 "axisY": {"labelPadding": 7},
 "title": {"font": "Liberation Serif", "fontSize": 17, "fontWeight": "bold", "color": "black", "offset": -5, "baseline": "alphabetic", "frame": "group"}
}
}
